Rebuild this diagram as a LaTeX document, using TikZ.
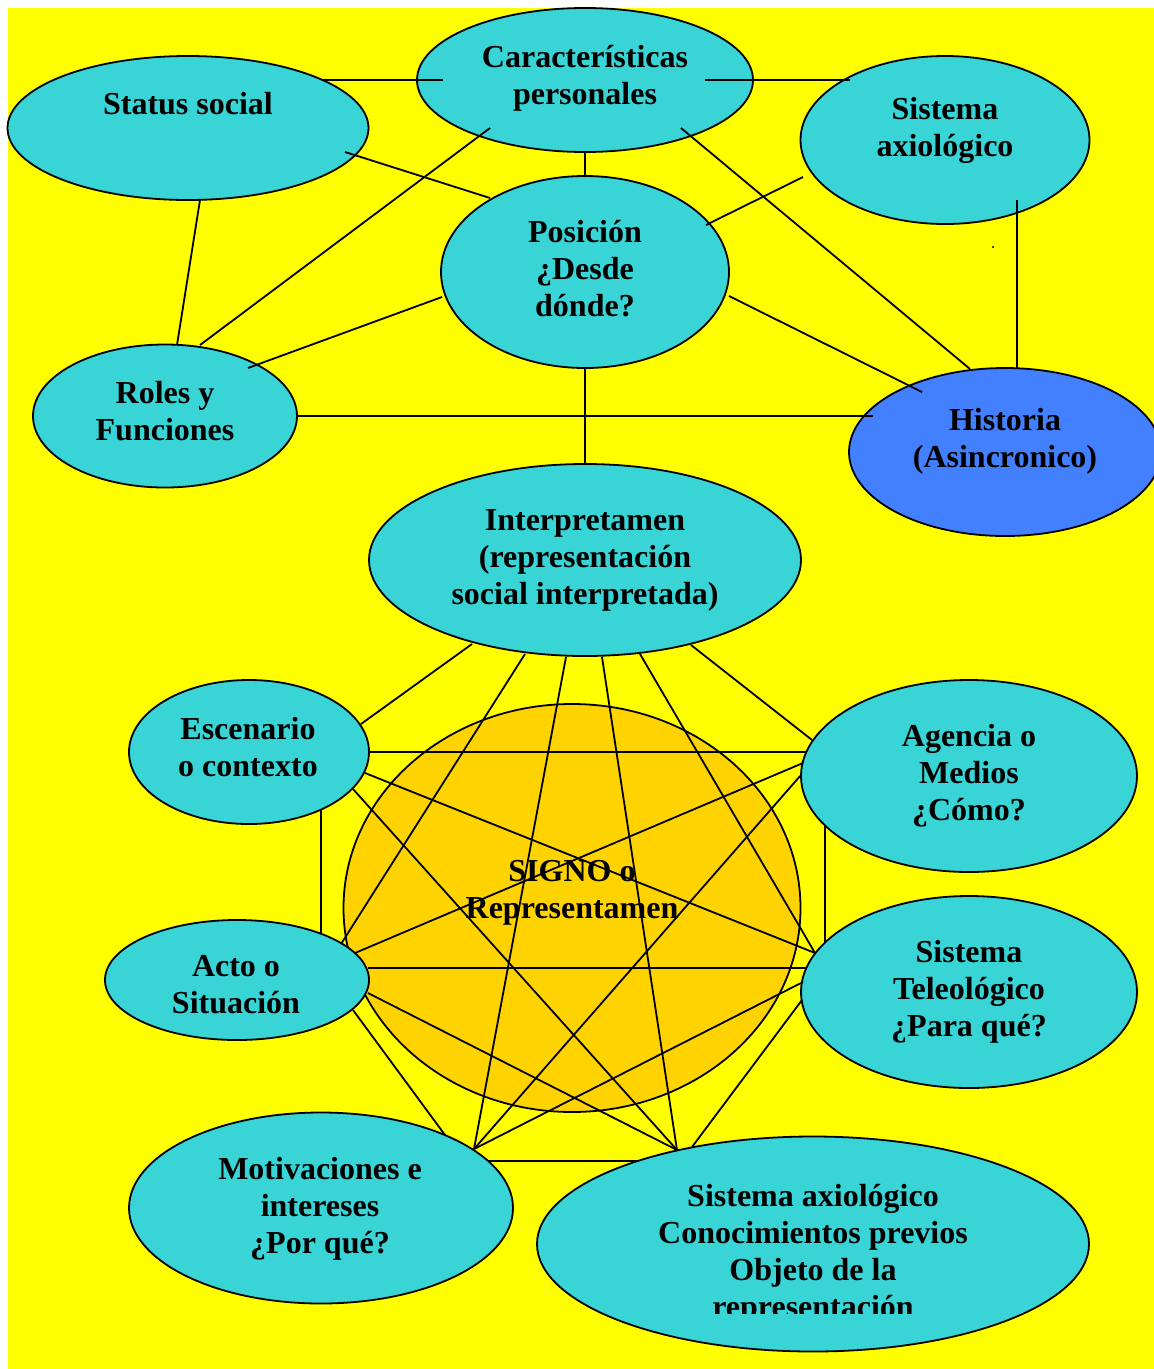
\documentclass[tikz,border=0pt]{standalone}
\usepackage{fontspec}
\setmainfont{Liberation Serif}
\usepackage{tikz}
\usetikzlibrary{shapes.geometric}
\usetikzlibrary{calc}

\definecolor{fondo}{RGB}{255,255,0}
\definecolor{turquesa}{RGB}{56,212,214}
\definecolor{azul}{RGB}{66,128,255}
\definecolor{oro}{RGB}{255,211,0}

\tikzset{
  burbuja/.style={ellipse, draw=black, line width=1.8pt, fill=turquesa, inner sep=0pt},
  texto/.style={align=center, inner sep=0pt, font=\fontsize{32}{37}\selectfont\bfseries},
  enlace/.style={line width=1.8pt}
}

\begin{document}
\begin{tikzpicture}[x=1pt,y=-1pt]
  \useasboundingbox (0,0) rectangle (1154,1369);
  \fill[white] (0,0) rectangle (1154,1369);
  \fill[fondo] (8,8) rectangle (1154,1369);

  \node[burbuja, minimum width=361, minimum height=144] (status) at (188,128) {};
  \node[burbuja, minimum width=336, minimum height=144] (car) at (585,80) {};
  \node[burbuja, minimum width=289, minimum height=168] (sisax) at (945,140) {};
  \node[burbuja, minimum width=288, minimum height=192] (pos) at (585,272) {};
  \node[burbuja, minimum width=264, minimum height=143] (roles) at (165,416) {};
  \node[burbuja, fill=azul, minimum width=312, minimum height=168] (hist) at (1005,452) {};
  \node[burbuja, minimum width=432, minimum height=192] (interp) at (585,560) {};
  \node[burbuja, fill=oro, minimum width=457, minimum height=408] (signo) at (572,908) {};
  \node[burbuja, minimum width=240, minimum height=144] (esc) at (249,752) {};
  \node[burbuja, minimum width=336, minimum height=192] (agen) at (969,776) {};
  \node[burbuja, minimum width=264, minimum height=120] (acto) at (237,980) {};
  \node[burbuja, minimum width=336, minimum height=192] (teleo) at (969,992) {};
  \node[burbuja, minimum width=384, minimum height=191] (motiv) at (321,1208) {};
  \node[burbuja, minimum width=552, minimum height=215] (sisb) at (813,1244) {};

  \node[texto] (status-t) at (188,104) {Status social};
  \node[texto] (car-t) at (585,78) {Características\\personales};
  \node[texto] (sisax-t) at (945,130) {Sistema\\axiológico};
  \node[texto] (pos-t) at (585,269) {Posición\\¿Desde\\dónde?};
  \node[texto] (roles-t) at (165,411) {Roles y\\Funciones};
  \node[texto] (hist-t) at (1005,441) {Historia\\(Asincronico)};
  \node[texto] (interp-t) at (585,560) {Interpretamen\\(representación\\social interpretada)};
  \node[texto] (signo-t) at (572,893) {SIGNO o\\Representamen};
  \node[texto] (esc-t) at (248,747) {Escenario\\o contexto};
  \node[texto] (agen-t) at (969,776) {Agencia o\\Medios\\¿Cómo?};
  \node[texto] (acto-t) at (236,985) {Acto o\\Situación};
  \node[texto] (teleo-t) at (969,992) {Sistema\\Teleológico\\¿Para qué?};
  \node[texto] (motiv-t) at (320,1209) {Motivaciones e\\intereses\\¿Por qué?};
  \begin{scope}
    \clip (537,1170) rectangle (1089,1313);
    \node[texto] (sisb-t) at (813,1254) {Sistema axiológico\\Conocimientos previos\\Objeto de la\\representación};
  \end{scope}

  \fill (993,247) circle (1.2);

  \draw[enlace] ($(status.center)+(135,-48)$) -- ($(car.center)+(-142,0)$);
  \draw[enlace] ($(car.center)+(120,0)$) -- ($(sisax.center)+(-95,-60)$);
  \draw[enlace] (car.south) -- (pos.north);
  \draw[enlace] ($(status.center)+(157,24)$) -- ($(pos.center)+(-95,-74)$);
  \draw[enlace] ($(car.center)+(-95,48)$) -- ($(roles.center)+(35,-71)$);
  \draw[enlace] ($(car.center)+(96,48)$) -- ($(hist.center)+(-35,-83)$);
  \draw[enlace] ($(sisax.center)+(-142,37)$) -- ($(pos.center)+(121,-47)$);
  \draw[enlace] ($(sisax.center)+(72,60)$) -- ($(hist.center)+(12,-83)$);
  \draw[enlace] ($(status.center)+(12,72)$) -- ($(roles.center)+(12,-71)$);
  \draw[enlace] ($(pos.center)+(-143,25)$) -- ($(roles.center)+(83,-48)$);
  \draw[enlace] ($(pos.center)+(144,24)$) -- ($(hist.center)+(-83,-60)$);
  \draw[enlace] (roles.east) -- ($(hist.center)+(-132,-36)$);
  \draw[enlace] (pos.south) -- (interp.north);

  \draw[enlace] ($(interp.center)+(-113,84)$) -- ($(esc.center)+(112,-28)$);
  \draw[enlace] ($(interp.center)+(-60,94)$) -- ($(acto.center)+(104,-36)$);
  \draw[enlace] ($(interp.center)+(-19,97)$) -- ($(motiv.center)+(153,-59)$);
  \draw[enlace] ($(interp.center)+(17,97)$) -- ($(sisb.center)+(-136,-94)$);
  \draw[enlace] ($(interp.center)+(55,94)$) -- ($(teleo.center)+(-154,-39)$);
  \draw[enlace] ($(interp.center)+(106,85)$) -- ($(agen.center)+(-157,-36)$);
  \draw[enlace] (esc.east) -- ($(agen.center)+(-163,-24)$);
  \draw[enlace] ($(esc.center)+(116,21)$) -- ($(teleo.center)+(-154,-39)$);
  \draw[enlace] ($(esc.center)+(104,37)$) -- ($(sisb.center)+(-136,-94)$);
  \draw[enlace] ($(esc.center)+(72,58)$) -- ($(acto.center)+(84,-46)$);
  \draw[enlace] ($(agen.center)+(-166,-13)$) -- ($(acto.center)+(118,-27)$);
  \draw[enlace] (agen.west) -- ($(motiv.center)+(153,-59)$);
  \draw[enlace] ($(agen.center)+(-144,49)$) -- ($(teleo.center)+(-144,-49)$);
  \draw[enlace] ($(acto.center)+(131,-12)$) -- ($(teleo.center)+(-163,-24)$);
  \draw[enlace] ($(acto.center)+(116,30)$) -- ($(motiv.center)+(124,-73)$);
  \draw[enlace] ($(acto.center)+(131,13)$) -- ($(sisb.center)+(-136,-94)$);
  \draw[enlace] ($(teleo.center)+(-166,-10)$) -- ($(motiv.center)+(153,-59)$);
  \draw[enlace] ($(teleo.center)+(-167,8)$) -- ($(sisb.center)+(-121,-97)$);
  \draw[enlace] ($(motiv.center)+(167,-47)$) -- ($(sisb.center)+(-176,-83)$);
\end{tikzpicture}
\end{document}
